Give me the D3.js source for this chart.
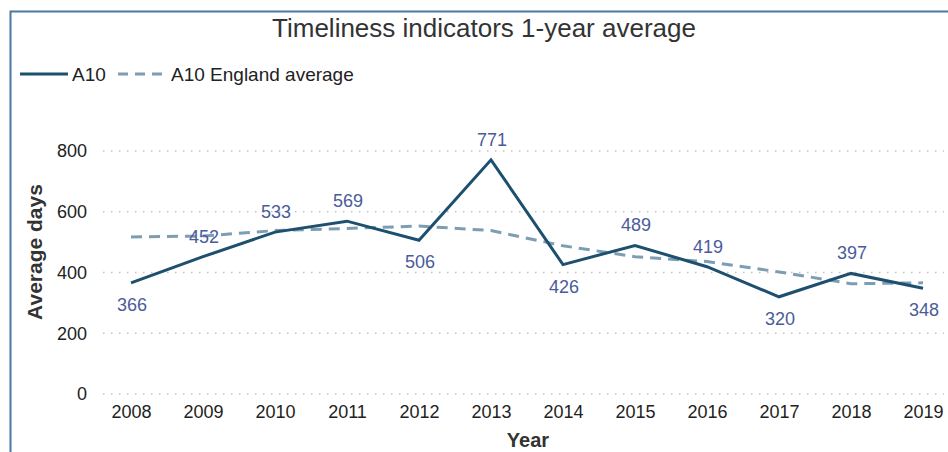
<!DOCTYPE html>
<html>
<head>
<meta charset="utf-8">
<script src="https://cdn.jsdelivr.net/npm/d3@7"></script>
<style>
  html, body { margin: 0; padding: 0; background: #fff; }
  svg { display: block; font-family: "Liberation Sans", Arial, sans-serif; }
</style>
</head>
<body>
<svg id="chart" width="948" height="452"></svg>
<script>
// Timeliness indicators, A10 vs England average (days)
const years = ["2008","2009","2010","2011","2012","2013","2014","2015","2016","2017","2018","2019"];
const a10 = [366, 452, 533, 569, 506, 771, 426, 489, 419, 320, 397, 348];
const englandAvg = [517, 520, 538, 545, 553, 538, 488, 452, 436, 402, 363, 366];
const yTicks = [0, 200, 400, 600, 800];

const svg = d3.select("#chart");

// outer frame (top and left edges visible)
svg.append("path")
  .attr("d", "M10.5,452 L10.5,11.5 L948,11.5")
  .attr("fill", "none")
  .attr("stroke", "#4a779c")
  .attr("stroke-width", 2);

const x = d3.scalePoint().domain(years).range([131, 923]);
const y = d3.scaleLinear().domain([0, 800]).range([394, 151]);

// title
svg.append("text")
  .attr("x", 484).attr("y", 37)
  .attr("text-anchor", "middle")
  .attr("font-size", 26)
  .attr("fill", "#333")
  .text("Timeliness indicators 1-year average");

// legend
const lg = svg.append("g");
lg.append("line").attr("x1", 20).attr("x2", 68).attr("y1", 74).attr("y2", 74)
  .attr("stroke", "#1d4f6f").attr("stroke-width", 3);
lg.append("text").attr("x", 72).attr("y", 81).attr("font-size", 19).attr("fill", "#222").text("A10");
lg.append("line").attr("x1", 118).attr("x2", 168).attr("y1", 74).attr("y2", 74)
  .attr("stroke", "#7d9db2").attr("stroke-width", 3).attr("stroke-dasharray", "10,7");
lg.append("text").attr("x", 171).attr("y", 81).attr("font-size", 19).attr("fill", "#222").text("A10 England average");

// gridlines
svg.append("g").selectAll("line").data(yTicks).join("line")
  .attr("x1", 103).attr("x2", 944)
  .attr("y1", d => y(d)).attr("y2", d => y(d))
  .attr("stroke", "#c4c4c4").attr("stroke-width", 1.5)
  .attr("stroke-dasharray", "1.5,6.5");

// y axis
const yAxis = svg.append("g")
  .attr("transform", "translate(87,0)")
  .call(d3.axisLeft(y).tickValues(yTicks).tickSize(0).tickPadding(0));
yAxis.select(".domain").remove();
yAxis.selectAll("text")
  .attr("font-size", 18).attr("fill", "#222")
  .attr("font-family", "'Liberation Sans', Arial, sans-serif");

// x axis
const xAxis = svg.append("g")
  .attr("transform", "translate(0,403)")
  .call(d3.axisBottom(x).tickSize(0).tickPadding(0));
xAxis.select(".domain").remove();
xAxis.selectAll("text")
  .attr("font-size", 18).attr("fill", "#222").attr("dy", "0.85em")
  .attr("font-family", "'Liberation Sans', Arial, sans-serif");

// axis titles
svg.append("text")
  .attr("transform", "translate(42,252) rotate(-90)")
  .attr("text-anchor", "middle")
  .attr("font-size", 21).attr("font-weight", "bold").attr("fill", "#333")
  .text("Average days");
svg.append("text")
  .attr("x", 528).attr("y", 447)
  .attr("text-anchor", "middle")
  .attr("font-size", 20).attr("font-weight", "bold").attr("fill", "#333")
  .text("Year");

// series lines
const line = d3.line().x((d, i) => x(years[i])).y(d => y(d));
svg.append("path").datum(englandAvg)
  .attr("d", line).attr("fill", "none")
  .attr("stroke", "#7d9db2").attr("stroke-width", 3)
  .attr("stroke-dasharray", "11,7");
svg.append("path").datum(a10)
  .attr("d", line).attr("fill", "none")
  .attr("stroke", "#1d4f6f").attr("stroke-width", 3)
  .attr("stroke-linejoin", "miter");

// data labels: below local lows, above otherwise
function isLow(i) {
  const v = a10[i];
  const prev = i > 0 ? a10[i - 1] : Infinity;
  const next = i < a10.length - 1 ? a10[i + 1] : Infinity;
  return v <= prev && v <= next;
}
svg.append("g").selectAll("text").data(a10).join("text")
  .attr("x", (d, i) => x(years[i]) + 1)
  .attr("y", (d, i) => y(d) + (isLow(i) ? 28 : -14))
  .attr("text-anchor", "middle")
  .attr("font-size", 18)
  .attr("fill", "#4a5b9b")
  .text(d => d);
</script>
</body>
</html>
